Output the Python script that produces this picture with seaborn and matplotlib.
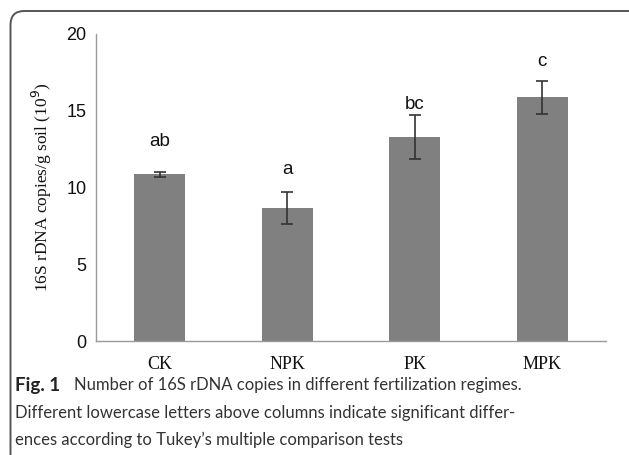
import matplotlib
matplotlib.use("Agg")
import matplotlib.pyplot as plt
import seaborn as sns
import pandas as pd
import numpy as np
from matplotlib.patches import FancyBboxPatch

# ---- data ----
categories = ["CK", "NPK", "PK", "MPK"]
values = [10.85, 8.65, 13.28, 15.87]
errors = [0.16, 1.03, 1.45, 1.07]
letters = ["ab", "a", "bc", "c"]
letter_y = [13.0, 11.2, 15.4, 18.2]
y_ticks = [0, 5, 10, 15, 20]

sns.set_theme(style="white")

W, H = 629, 455
fig = plt.figure(figsize=(W / 100, H / 100), dpi=100)
ax = fig.add_axes([96 / W, 1 - 341 / H, (606 - 96) / W, (341 - 34) / H])

df = pd.DataFrame({"cat": categories, "val": values})
sns.barplot(data=df, x="cat", y="val", order=categories, color="#808080",
            saturation=1, width=0.4, errorbar=None, ax=ax, edgecolor="none")
ax.errorbar(np.arange(len(categories)), values, yerr=errors, fmt="none",
            ecolor="#333333", elinewidth=1.2, capsize=4, capthick=1.2)

for i, (lab, ly) in enumerate(zip(letters, letter_y)):
    ax.text(i, ly, lab, ha="center", va="center", fontsize=13.5,
            family="Liberation Sans", color="#111111")

ax.set_xlim(-0.5, len(categories) - 0.5)
ax.set_ylim(0, 20)
ax.set_yticks(y_ticks)
ax.set_yticklabels([str(t) for t in y_ticks], family="Liberation Sans", fontsize=13, color="#111111")
ax.set_xticks(range(len(categories)))
ax.set_xticklabels(categories, family="Liberation Serif", fontsize=13, color="#111111")
ax.set_xticks(np.arange(0.5, len(categories), 1.0), minor=True)
ax.tick_params(axis="x", which="major", length=0, pad=11)
ax.tick_params(axis="x", which="minor", length=5, color="#999999", width=1, direction="out")
ax.tick_params(axis="y", which="major", length=4, color="#999999", width=1, direction="out", pad=3)
ax.set_xlabel("")
ax.set_ylabel("16S rDNA copies/g soil (10$^9$)", family="Liberation Serif", fontsize=12.5,
              color="#111111", labelpad=9)
for s in ["top", "right"]:
    ax.spines[s].set_visible(False)
for s in ["left", "bottom"]:
    ax.spines[s].set_color("#999999")
    ax.spines[s].set_linewidth(1)

# frame around the figure (open at bottom, right edge off image)
frame = FancyBboxPatch((10.5 / W, -0.2), 1.1, 0.2 + (H - 11) / H,
                       boxstyle="round,pad=0,rounding_size=0.022",
                       transform=fig.transFigure, fill=False,
                       edgecolor="#555555", linewidth=1.4, clip_on=False,
                       mutation_aspect=W / H)
fig.patches.append(frame)

# caption
cap_font = "Lato"
x0 = 15 / W
fig.text(x0, 1 - 385 / H, "Fig. 1", fontsize=13.5, fontweight="bold", family=cap_font,
         color="#222222", va="center", ha="left")
fig.text(74 / W, 1 - 385 / H, "Number of 16S rDNA copies in different fertilization regimes.",
         fontsize=12, family=cap_font, color="#333333", va="center", ha="left")
fig.text(x0, 1 - 413 / H, "Different lowercase letters above columns indicate significant differ-",
         fontsize=12, family=cap_font, color="#333333", va="center", ha="left")
fig.text(x0, 1 - 440 / H, "ences according to Tukey\u2019s multiple comparison tests",
         fontsize=12, family=cap_font, color="#333333", va="center", ha="left")

fig.savefig("out.png", dpi=100)
